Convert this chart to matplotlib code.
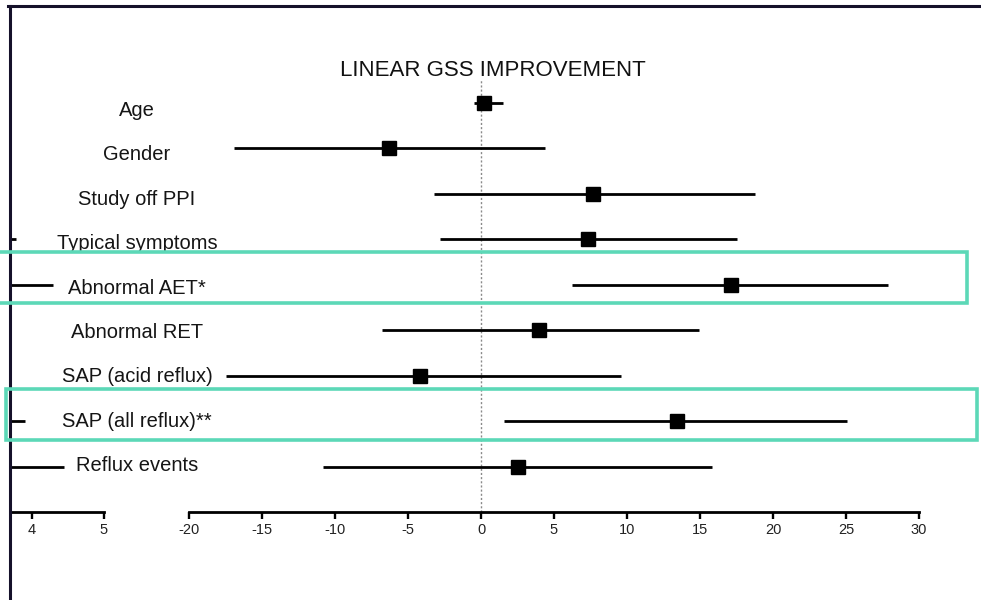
import matplotlib
matplotlib.use("Agg")
import matplotlib.pyplot as plt
from matplotlib.patches import Rectangle
from matplotlib.lines import Line2D
from matplotlib.transforms import blended_transform_factory

plt.rcParams['font.family'] = ['Liberation Sans', 'DejaVu Sans']

# Forest plot data: linear GSS improvement (estimate and 95% CI)
factors = ["Age", "Gender", "Study off PPI", "Typical symptoms", "Abnormal AET*",
           "Abnormal RET", "SAP (acid reflux)", "SAP (all reflux)**", "Reflux events"]
estimate = [0.2, -6.3, 7.7, 7.3, 17.1, 4.0, -4.2, 13.4, 2.5]
ci_low = [-0.5, -16.9, -3.2, -2.8, 6.2, -6.8, -17.5, 1.6, -10.8]
ci_high = [1.5, 4.4, 18.8, 17.5, 27.9, 14.9, 9.6, 25.1, 15.8]
main_ticks = [-20, -15, -10, -5, 0, 5, 10, 15, 20, 25, 30]

# Neighbouring panel (only its right edge is visible)
left_low = [None, None, None, 3.0, 3.0, None, None, 3.0, 3.0]
left_high = [None, None, None, 3.78, 4.29, None, None, 3.90, 4.44]
left_ticks = [4, 5]

highlighted = ["Abnormal AET*", "SAP (all reflux)**"]

W, H = 981, 600
fig = plt.figure(figsize=(W / 100, H / 100), dpi=100)
fig.patch.set_facecolor("white")

def fx(px):
    return px / W

def fy(py):
    return 1 - py / H

n = len(factors)
rows = list(range(n))
ax_top, ax_bot = 80, 512

ax = fig.add_axes([fx(189), fy(ax_bot), fx(919 - 189), (ax_bot - ax_top) / H])
ax.set_xlim(-20, 30)
ax.set_ylim(n - 0.01, -0.5)
ax.axvline(0, color="#8a8a8a", lw=1.0, ls=(0, (1.5, 1.5)), zorder=1)
for r, e, lo, hi in zip(rows, estimate, ci_low, ci_high):
    ax.plot([lo, hi], [r, r], color="black", lw=2.0, solid_capstyle="butt", zorder=2)
    ax.plot(e, r, marker="s", color="black", ms=10.5, zorder=3)
for s in ["top", "right", "left"]:
    ax.spines[s].set_visible(False)
ax.spines["bottom"].set_linewidth(2.0)
ax.set_yticks([])
ax.set_xticks(main_ticks)
ax.set_xticklabels([str(t) for t in main_ticks])
ax.tick_params(axis="x", length=5, width=1.7, labelsize=10.5, pad=3, color="black",
               labelcolor="#222222")

fig.text(fx(493), fy(71), "LINEAR GSS IMPROVEMENT", ha="center", va="center",
         fontsize=16, color="#111111")

# Partial left panel
axl = fig.add_axes([fx(11), fy(ax_bot), fx(104 - 11), (ax_bot - ax_top) / H])
axl.set_xlim(4 - 21 / 72, 5)
axl.set_ylim(n - 0.01, -0.5)
for r, lo, hi in zip(rows, left_low, left_high):
    if hi is not None:
        axl.plot([lo, hi], [r, r], color="black", lw=2.0, solid_capstyle="butt")
for s in ["top", "right", "left"]:
    axl.spines[s].set_visible(False)
axl.spines["bottom"].set_linewidth(2.0)
axl.set_yticks([])
axl.set_xticks(left_ticks)
axl.set_xticklabels([str(t) for t in left_ticks])
axl.tick_params(axis="x", length=5, width=1.7, labelsize=10.5, pad=3,
                labelcolor="#222222")
axl.patch.set_alpha(0)

# Row labels
lab_tr = blended_transform_factory(fig.transFigure, ax.transData)
for i, name in enumerate(factors):
    ax.text(fx(137), 0.17 + 0.975 * i, name, transform=lab_tr, ha="center",
            va="center", fontsize=14.5, color="#151515", clip_on=False)

# Highlight boxes around significant factors
teal = "#5cd8b7"
box_x = {"Abnormal AET*": (-5, 967), "SAP (all reflux)**": (6, 977)}
for name in highlighted:
    r = factors.index(name)
    x0, x1 = box_x[name]
    rect = Rectangle((fx(x0), r - 0.72), fx(x1 - x0), 1.12, transform=lab_tr,
                     fill=False, ec=teal, lw=2.6, clip_on=False, zorder=5)
    fig.add_artist(rect)

# Outer frame (top and left edges)
frame = "#15112a"
fig.add_artist(Line2D([fx(8), 1.0], [fy(6), fy(6)], color=frame, lw=2.2,
                      transform=fig.transFigure))
fig.add_artist(Line2D([fx(10), fx(10)], [fy(6), 0], color=frame, lw=2.2,
                      transform=fig.transFigure))

fig.savefig("out.png", dpi=100, facecolor="white")
